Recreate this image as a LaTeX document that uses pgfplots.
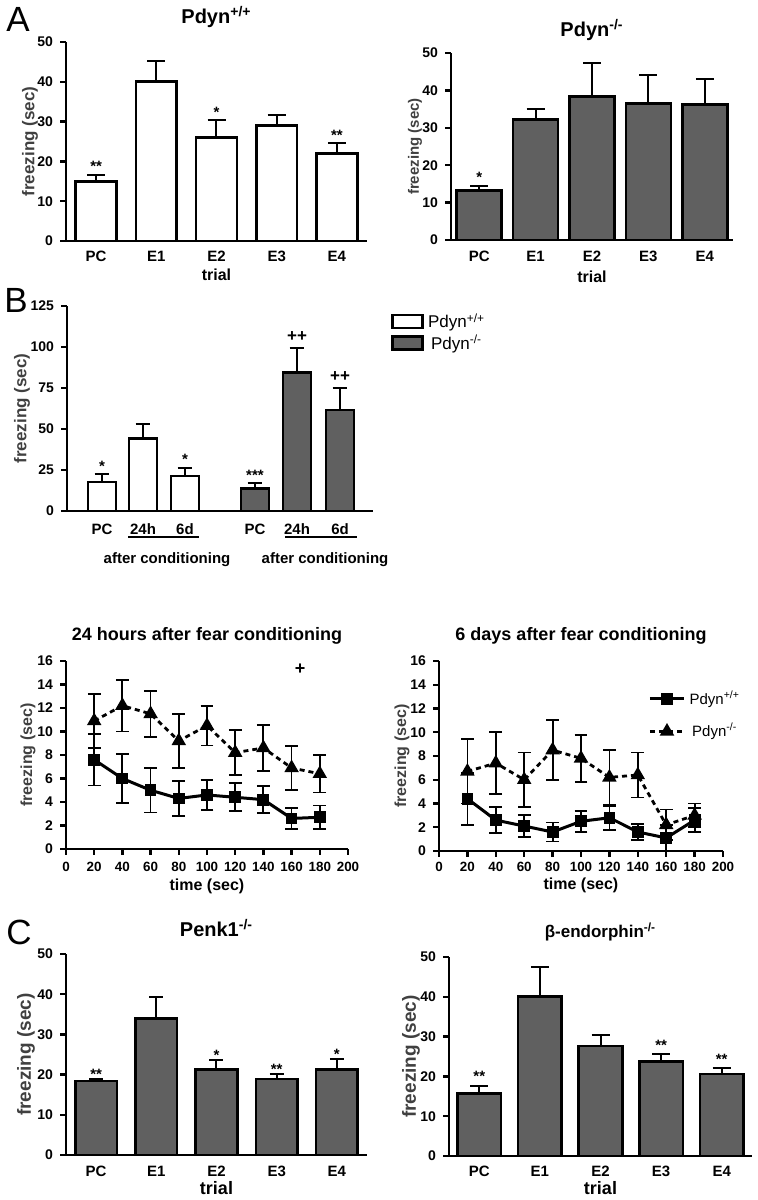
\documentclass[border=0pt]{standalone}
\usepackage{fontspec}
\setmainfont{Liberation Sans}
\usepackage{pgfplots}
\pgfplotsset{compat=1.18}
\definecolor{barfill}{RGB}{96,96,96}

\pgfplotsset{
  gp/.style={
    scale only axis, anchor=south west, clip=false,
    axis lines=left, axis line style={-, line width=1.4pt},
    tick align=outside, major tick length=3pt,
    every tick/.style={black, line width=1.2pt},
    /pgf/number format/assume math mode=true,
    yticklabel style={font=\bfseries\fontsize{7}{7}\selectfont},
    xticklabel style={font=\bfseries\fontsize{7.5}{8}\selectfont, anchor=center},
    every axis title/.style={at={(rel axis cs:0.5,1)}, anchor=center,
      font=\bfseries\fontsize{10}{11}\selectfont},
    every axis x label/.style={at={(rel axis cs:0.5,0)}, anchor=center,
      font=\bfseries\fontsize{8}{9}\selectfont},
    every axis y label/.style={at={(rel axis cs:0,0.5)}, anchor=center, rotate=90,
      text=black!75, font=\bfseries\fontsize{8.5}{9}\selectfont},
    ylabel={freezing (sec)},
  },
  bars/.style={gp, ybar, bar shift=0pt, enlargelimits=false,
    xmin=-0.5, xmax=4.5, ymin=0, ymax=50, ytick={0,10,...,50},
    xtick={0,...,4}, xticklabels={PC,E1,E2,E3,E4}, xtick style={draw=none},
    xlabel={trial}},
  lines/.style={gp, xmin=0, xmax=200, ymin=0, ymax=16,
    xtick={0,20,...,200}, ytick={0,2,...,16},
    xticklabel style={font=\bfseries\fontsize{6.7}{7}\selectfont},
    title style={font=\bfseries\fontsize{9}{10}\selectfont, yshift=12.5pt},
    xlabel={time (sec)}},
  errs/.style={/pgfplots/error bars/y dir=plus, /pgfplots/error bars/y explicit,
    /pgfplots/error bars/error mark=-,
    /pgfplots/error bars/error bar style={line width=1pt, black, solid},
    /pgfplots/error bars/error mark options={rotate=90, line width=1pt, black, mark size=#1}},
  wbar/.style={fill=white, draw=black, line width=1.3pt, errs=#1},
  gbar/.style={fill=barfill, draw=black, line width=1.3pt, errs=#1},
  lerr/.style={/pgfplots/error bars/y dir=both, /pgfplots/error bars/y explicit,
    /pgfplots/error bars/error mark=-,
    /pgfplots/error bars/error bar style={line width=0.9pt, black, solid},
    /pgfplots/error bars/error mark options={rotate=90, line width=0.9pt, black, mark size=3.2pt}},
  wt/.style={black, line width=1.5pt, mark=square*, mark size=2.2pt,
    mark options={solid}, lerr},
  ko/.style={black, line width=1.4pt, dash pattern=on 2.5pt off 2pt,
    mark=triangle*, mark size=2.8pt, mark options={solid}, lerr},
}
\tikzset{
  sig/.style={anchor=base, font=\bfseries\fontsize{7.5}{8}\selectfont, inner sep=0pt},
  panel/.style={font=\fontsize{17.5}{18}\selectfont, inner sep=0pt},
}

\begin{document}
\begin{tikzpicture}
\path[use as bounding box] (0pt,0pt) rectangle (379pt,600pt);

\node[panel] at (9pt,590.5pt) {A};
\node[panel] at (8pt,450pt) {B};
\node[panel] at (9.5pt,134pt) {C};

% ---- A, wild type
\begin{axis}[bars, at={(33pt,479.5pt)}, width=150.5pt, height=99.5pt, bar width=0.68,
  title={Pdyn\textsuperscript{+/+}}, title style={yshift=12.5pt},
  xlabel style={yshift=-17pt}, ylabel style={yshift=18pt},
  xticklabel style={yshift=-4.5pt}]
\addplot[wbar=4.5pt] table[y error=e] {
x y e
0 15.0 1.7
1 40.0 5.3
2 26.0 4.3
3 29.0 2.7
4 22.0 2.6
};
\node[sig, yshift=1.4pt] at (axis cs:0,16.7) {**};
\node[sig, yshift=1.4pt] at (axis cs:2,30.3) {*};
\node[sig, yshift=1.4pt] at (axis cs:4,24.6) {**};
\end{axis}

% ---- A, knockout
\begin{axis}[bars, at={(225.5pt,480pt)}, width=141pt, height=93.5pt, bar width=0.8,
  title={Pdyn\textsuperscript{-/-}}, title style={yshift=11.5pt},
  xlabel style={yshift=-18.5pt},
  ylabel style={yshift=18pt, font=\bfseries\fontsize{7.5}{8}\selectfont},
  xticklabel style={yshift=-5pt}]
\addplot[gbar=4.5pt] table[y error=e] {
x y e
0 13.2 1.2
1 32.2 2.8
2 38.3 8.9
3 36.5 7.5
4 36.3 6.7
};
\node[sig, yshift=2pt] at (axis cs:0,14.4) {*};
\end{axis}

% ---- B
\begin{axis}[gp, ybar, bar shift=0pt, enlargelimits=false,
  at={(33.5pt,344.5pt)}, width=153pt, height=102.5pt, bar width=28,
  xmin=67, xmax=373, ymin=0, ymax=125, ytick={0,25,...,125},
  xtick={102,143,185,255,297,340}, xticklabels={PC,24h,6d,PC,24h,6d},
  xtick style={draw=none}, xticklabel style={yshift=-6pt},
  ylabel style={yshift=22.5pt},
  legend style={at={(rel axis cs:1.059,0.985)}, anchor=north west, draw=none,
    fill=none, inner sep=0pt, row sep=-2pt,
    font=\fontsize{8.5}{9}\selectfont},
  legend image code/.code={\draw[#1] (0pt,-3pt) rectangle (15pt,3.5pt);}]
\addplot[wbar=3.7pt] table[y error=e] {
x y e
102 17.7 4.7
143 44.2 8.7
185 21.4 5.1
};
\addplot[gbar=3.7pt] table[y error=e] {
x y e
255 13.6 3.5
297 84.3 14.8
340 61.5 13.2
};
\legend{Pdyn\textsuperscript{+/+}, Pdyn\textsuperscript{-/-}}
\node[sig, yshift=1.4pt] at (axis cs:102,22.4) {*};
\node[sig, yshift=1.4pt] at (axis cs:185,26.5) {*};
\node[sig, yshift=1pt] at (axis cs:255,17.1) {***};
\node[sig, yshift=3.4pt, font=\bfseries\fontsize{8.5}{8}\selectfont] at (axis cs:297,99.1) {++};
\node[sig, yshift=3.4pt, font=\bfseries\fontsize{8.5}{8}\selectfont] at (axis cs:340,74.7) {++};
\draw[line width=1pt] ([yshift=-13pt]axis cs:128,0) -- ([yshift=-13pt]axis cs:199,0);
\draw[line width=1pt] ([yshift=-13pt]axis cs:285,0) -- ([yshift=-13pt]axis cs:357,0);
\node[font=\bfseries\fontsize{7.5}{8}\selectfont] at ([yshift=-24.5pt]axis cs:167,0) {after conditioning};
\node[font=\bfseries\fontsize{7.5}{8}\selectfont] at ([yshift=-24.5pt]axis cs:325,0) {after conditioning};
\end{axis}

% ---- 24 h
\begin{axis}[lines, at={(33pt,175.5pt)}, width=141pt, height=94pt,
  title={24 hours after fear conditioning},
  xlabel style={yshift=-18.5pt}, ylabel style={yshift=19pt, font=\bfseries\fontsize{8}{9}\selectfont},
  xticklabel style={yshift=-6pt}]
\addplot[wt] table[y error=e] {
x y e
20 7.6 2.2
40 6.0 2.1
60 5.0 1.9
80 4.3 1.5
100 4.6 1.3
120 4.4 1.2
140 4.2 1.15
160 2.6 0.9
180 2.7 1.0
};
\addplot[ko] table[y error=e] {
x y e
20 10.9 2.3
40 12.2 2.2
60 11.5 1.95
80 9.2 2.3
100 10.5 1.7
120 8.2 1.9
140 8.6 1.95
160 6.9 1.85
180 6.4 1.6
};
\node[font=\bfseries\fontsize{9}{9}\selectfont, inner sep=0pt] at (axis cs:166,15.3) {+};
\end{axis}

% ---- 6 d
\begin{axis}[lines, at={(219.5pt,174.5pt)}, width=142pt, height=95pt,
  title={6 days after fear conditioning},
  xlabel style={yshift=-17pt}, ylabel style={yshift=18.5pt, font=\bfseries\fontsize{8}{9}\selectfont},
  xticklabel style={yshift=-5pt},
  legend style={at={(rel axis cs:0.736,0.868)}, anchor=north west, draw=none,
    fill=none, inner sep=0pt, row sep=4pt, font=\fontsize{7.5}{8}\selectfont}]
\addplot[wt] table[y error=e] {
x y e
20 4.4 2.2
40 2.6 1.1
60 2.1 0.9
80 1.6 0.8
100 2.5 0.9
120 2.8 1.0
140 1.6 0.7
160 1.1 1.1
180 2.6 1.0
};
\addplot[ko] table[y error=e] {
x y e
20 6.7 2.7
40 7.4 2.6
60 6.0 2.3
80 8.5 2.5
100 7.8 2.0
120 6.2 2.3
140 6.4 1.9
160 2.2 1.3
180 3.0 1.0
};
\legend{Pdyn\textsuperscript{+/+}, Pdyn\textsuperscript{-/-}}
\end{axis}

% ---- C, Penk1
\begin{axis}[bars, at={(33pt,22.5pt)}, width=150.5pt, height=100.5pt, bar width=0.69,
  title={Penk1\textsuperscript{-/-}}, title style={yshift=13pt},
  xlabel style={yshift=-16.5pt, font=\bfseries\fontsize{9}{9}\selectfont},
  ylabel style={yshift=20pt, font=\bfseries\fontsize{9.5}{10}\selectfont},
  xticklabel style={yshift=-5pt}]
\addplot[gbar=3.5pt] table[y error=e] {
x y e
0 18.4 0.5
1 34.0 5.4
2 21.3 2.3
3 18.9 1.2
4 21.3 2.5
};
\node[sig, yshift=0pt] at (axis cs:0,18.9) {**};
\node[sig, yshift=0pt] at (axis cs:2,23.6) {*};
\node[sig, yshift=0pt] at (axis cs:3,20.1) {**};
\node[sig, yshift=0pt] at (axis cs:4,23.8) {*};
\end{axis}

% ---- C, beta-endorphin
\begin{axis}[bars, at={(224.5pt,22pt)}, width=151.5pt, height=99.5pt, bar width=0.72,
  title={β-endorphin\textsuperscript{-/-}},
  title style={yshift=12.5pt, font=\bfseries\fontsize{8.5}{9}\selectfont},
  xlabel style={yshift=-16pt, font=\bfseries\fontsize{9}{9}\selectfont},
  ylabel style={yshift=19pt, font=\bfseries\fontsize{9.5}{10}\selectfont},
  xticklabel style={yshift=-4.5pt}]
\addplot[gbar=4.5pt] table[y error=e] {
x y e
0 15.7 2.0
1 40.0 7.5
2 27.6 2.9
3 23.8 1.95
4 20.6 1.6
};
\node[sig, yshift=2pt] at (axis cs:0,17.7) {**};
\node[sig, yshift=1.4pt] at (axis cs:3,25.75) {**};
\node[sig, yshift=1.4pt] at (axis cs:4,22.2) {**};
\end{axis}
\end{tikzpicture}
\end{document}
